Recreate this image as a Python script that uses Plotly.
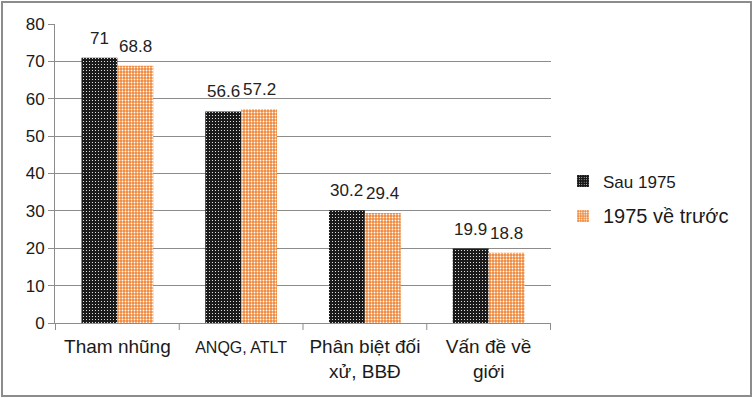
import plotly.graph_objects as go

categories = ["Tham nhũng", "ANQG, ATLT", "Phân biệt đối<br>xử, BBĐ", "Vấn đề về<br>giới"]
tick_labels = [
    "Tham nhũng",
    '<span style="font-size:16px">ANQG, ATLT</span>',
    "Phân biệt đối<br>xử, BBĐ",
    "Vấn đề về<br>giới",
]
series_names = ["Sau 1975", "1975 về trước"]
sau_1975 = [71, 56.6, 30.2, 19.9]
truoc_1975 = [68.8, 57.2, 29.4, 18.8]
y_ticks = [0, 10, 20, 30, 40, 50, 60, 70, 80]

W, H = 753, 398
ml, mr, mt, mb = 55, 202, 24, 75
pw = W - ml - mr
ph = H - mt - mb
bargap = 0.42
bar_px = pw / len(categories) * (1 - bargap) / 2

fig = go.Figure()
fig.add_trace(go.Bar(
    x=categories, y=sau_1975, name='<span style="font-size:17px">' + series_names[0] + '</span>',
    legendgroup="a",
    marker=dict(color="#1a1a1a", line=dict(width=0),
                pattern=dict(shape=".", bgcolor="#1a1a1a", fgcolor="#ffffff",
                             size=3, solidity=0.12, fillmode="replace")),
))
fig.add_trace(go.Bar(
    x=categories, y=truoc_1975, name='<span style="font-size:20px">' + series_names[1] + '</span>',
    legendgroup="b",
    marker=dict(color="#f0883a", line=dict(width=0),
                pattern=dict(shape=".", bgcolor="#f0883a", fgcolor="#ffffff",
                             size=3, solidity=0.3, fillmode="replace")),
))

# data labels above each bar
for vals, shift in ((sau_1975, -bar_px / 2), (truoc_1975, bar_px / 2)):
    for c, v in zip(categories, vals):
        fig.add_annotation(x=c, y=v, text=f"{v:g}", showarrow=False,
                           xshift=shift, yshift=8, yanchor="bottom",
                           font=dict(size=17, color="#222222"))

fig.add_shape(type="rect", xref="paper", yref="paper",
              x0=-(ml - 2) / pw, x1=1 + (mr - 2) / pw,
              y0=-(mb - 2) / ph, y1=1 + (mt - 2) / ph,
              line=dict(color="#8c8c8c", width=2), fillcolor="rgba(0,0,0,0)", layer="below")

fig.update_layout(
    width=W, height=H,
    margin=dict(l=ml, r=mr, t=mt, b=mb, autoexpand=False),
    paper_bgcolor="white", plot_bgcolor="white",
    font=dict(family="Liberation Sans, Arial, sans-serif", color="#1a1a1a"),
    barmode="group", bargap=bargap, bargroupgap=0,
    showlegend=True,
    legend=dict(x=(563 - ml) / pw, y=0.415, xanchor="left", yanchor="middle",
                font=dict(size=17, color="#1a1a1a"),
                traceorder="grouped", tracegroupgap=10,
                bgcolor="rgba(0,0,0,0)"),
    xaxis=dict(
        tickmode="array", tickvals=categories, ticktext=tick_labels,
        tickfont=dict(size=19, color="#1a1a1a"),
        showline=True, linecolor="#8c8c8c", linewidth=1,
        ticks="", showgrid=False, automargin=False, ticklabelstandoff=6,
    ),
    yaxis=dict(
        range=[0, 80], tickvals=y_ticks,
        tickfont=dict(size=17, color="#1a1a1a"),
        showline=True, linecolor="#8c8c8c", linewidth=1,
        ticks="outside", ticklen=6, tickcolor="#8c8c8c",
        showgrid=True, gridcolor="#8c8c8c", gridwidth=1,
        zeroline=False, automargin=False,
    ),
)

# category separator ticks on the x axis (between categories)
for i in range(len(categories) + 1):
    fig.add_shape(type="line", xref="x", yref="paper",
                  x0=i - 0.5, x1=i - 0.5, y0=0, y1=-7 / ph,
                  line=dict(color="#8c8c8c", width=1))

fig.write_html("out.html", config={"displayModeBar": False},
               post_script="document.body.style.margin='0';document.body.style.overflow='hidden';")
